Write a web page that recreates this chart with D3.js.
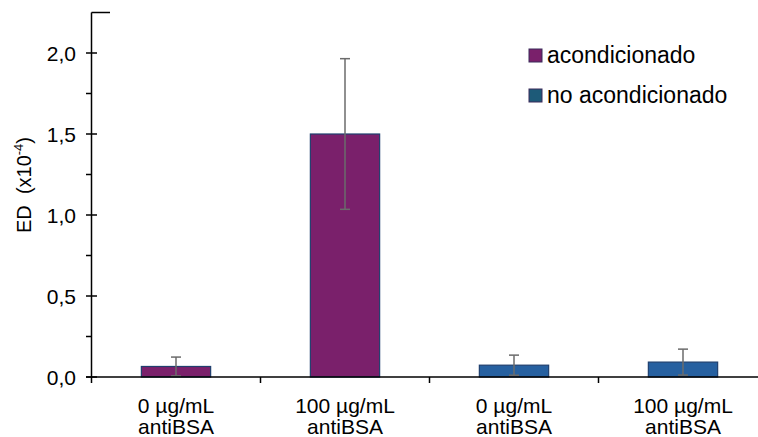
<!DOCTYPE html>
<html>
<head>
<meta charset="utf-8">
<script src="https://d3js.org/d3.v7.min.js"></script>
<style>
    body { margin: 0; background: #fff; }
    text { font-family: "Liberation Sans", Arial, sans-serif; fill: #000; }
</style>
</head>
<body>
<svg id="vis"></svg>
<script>
    // data
    const groups = ["g1", "g2", "g3", "g4"];
    const groupLabels = [["0 µg/mL", "antiBSA"], ["100 µg/mL", "antiBSA"], ["0 µg/mL", "antiBSA"], ["100 µg/mL", "antiBSA"]];
    const groupSeries = ["acondicionado", "acondicionado", "no acondicionado", "no acondicionado"];
    const values = [0.065, 1.50, 0.073, 0.092];
    const errors = [0.058, 0.465, 0.062, 0.080];
    const seriesNames = ["acondicionado", "no acondicionado"];
    const majorTicks = [0, 0.5, 1.0, 1.5, 2.0];
    const minorTicks = [0.25, 0.75, 1.25, 1.75];

    let width = 758,
        height = 437;

    let svg = d3.select("#vis").attr("width", width).attr("height", height);

    let x = d3.scaleBand().domain(groups).range([91.5, 767.5]);
    let y = d3.scaleLinear().domain([0, 2.25]).range([377, 12.5]);

    let barColor = d3.scaleOrdinal().domain(seriesNames).range(["#7a206b", "#2660a0"]);
    let legendColor = d3.scaleOrdinal().domain(seriesNames).range(["#7a206b", "#1d5a78"]);

    let fmt = v => d3.format(".1f")(v).replace(".", ",");

    // bars
    let barW = x.bandwidth() * 0.41;
    svg.selectAll(".bar")
        .data(groups)
        .join("rect")
        .attr("class", "bar")
        .attr("x", (d, i) => x(d) + x.bandwidth() / 2 - barW / 2)
        .attr("y", (d, i) => y(values[i]))
        .attr("width", barW)
        .attr("height", (d, i) => y(0) - y(values[i]))
        .attr("fill", (d, i) => barColor(groupSeries[i]))
        .attr("stroke", "#1f3f6e")
        .attr("stroke-width", 1.2);

    // error bars
    let err = svg.selectAll(".err")
        .data(groups)
        .join("g")
        .attr("class", "err")
        .attr("stroke", "#6b6b6b")
        .attr("stroke-width", 1.5);
    err.append("line")
        .attr("x1", d => x(d) + x.bandwidth() / 2)
        .attr("x2", d => x(d) + x.bandwidth() / 2)
        .attr("y1", (d, i) => y(values[i] - errors[i]))
        .attr("y2", (d, i) => y(values[i] + errors[i]));
    [1, -1].forEach(s => {
        err.append("line")
            .attr("x1", d => x(d) + x.bandwidth() / 2 - 5)
            .attr("x2", d => x(d) + x.bandwidth() / 2 + 5)
            .attr("y1", (d, i) => y(values[i] + s * errors[i]))
            .attr("y2", (d, i) => y(values[i] + s * errors[i]));
    });

    // y axis
    let axisG = svg.append("g").attr("stroke", "#000").attr("stroke-width", 1.5);
    axisG.append("line")
        .attr("x1", 91.5).attr("x2", 91.5)
        .attr("y1", y(2.25)).attr("y2", y(0));
    axisG.append("line")
        .attr("x1", 91.5).attr("x2", 110)
        .attr("y1", y(2.25)).attr("y2", y(2.25));
    axisG.selectAll(".maj")
        .data(majorTicks)
        .join("line")
        .attr("x1", 86).attr("x2", 97)
        .attr("y1", d => y(d)).attr("y2", d => y(d));
    axisG.selectAll(".min")
        .data(minorTicks)
        .join("line")
        .attr("class", "min")
        .attr("x1", 86).attr("x2", 91.5)
        .attr("y1", d => y(d)).attr("y2", d => y(d));

    svg.selectAll(".ylab")
        .data(majorTicks)
        .join("text")
        .attr("class", "ylab")
        .attr("x", 76)
        .attr("y", d => y(d) + 7.5)
        .attr("text-anchor", "end")
        .attr("font-size", 21)
        .text(fmt);

    // x axis
    axisG.append("line")
        .attr("x1", 86).attr("x2", width)
        .attr("y1", y(0)).attr("y2", y(0));
    axisG.selectAll(".xt")
        .data(groups)
        .join("line")
        .attr("class", "xt")
        .attr("x1", d => x(d)).attr("x2", d => x(d))
        .attr("y1", y(0)).attr("y2", y(0) + 6);

    let xl = svg.selectAll(".xlab")
        .data(groups)
        .join("text")
        .attr("class", "xlab")
        .attr("text-anchor", "middle")
        .attr("font-size", 21);
    xl.selectAll("tspan")
        .data((d, i) => groupLabels[i].map(t => ({ t: t, cx: x(d) + x.bandwidth() / 2 })))
        .join("tspan")
        .attr("x", d => d.cx)
        .attr("y", (d, j) => 413 + j * 21)
        .text(d => d.t);

    // y title
    let yt = svg.append("text")
        .attr("transform", `translate(31,${185})rotate(-90)`)
        .attr("text-anchor", "middle")
        .attr("font-size", 20);
    yt.append("tspan").text("ED\u00a0 (x10");
    yt.append("tspan").attr("dy", -8).attr("font-size", 13).text("-4");
    yt.append("tspan").attr("dy", 8).text(")");

    // legend
    let leg = svg.selectAll(".leg")
        .data(seriesNames)
        .join("g")
        .attr("class", "leg")
        .attr("transform", (d, i) => `translate(529,${49 + i * 40})`);
    leg.append("rect")
        .attr("width", 13).attr("height", 13)
        .attr("fill", d => legendColor(d))
        .attr("stroke", "#3a2a5a")
        .attr("stroke-width", 1);
    leg.append("text")
        .attr("x", 18).attr("y", 14)
        .attr("font-size", 23)
        .text(d => d);
</script>
</body>
</html>
